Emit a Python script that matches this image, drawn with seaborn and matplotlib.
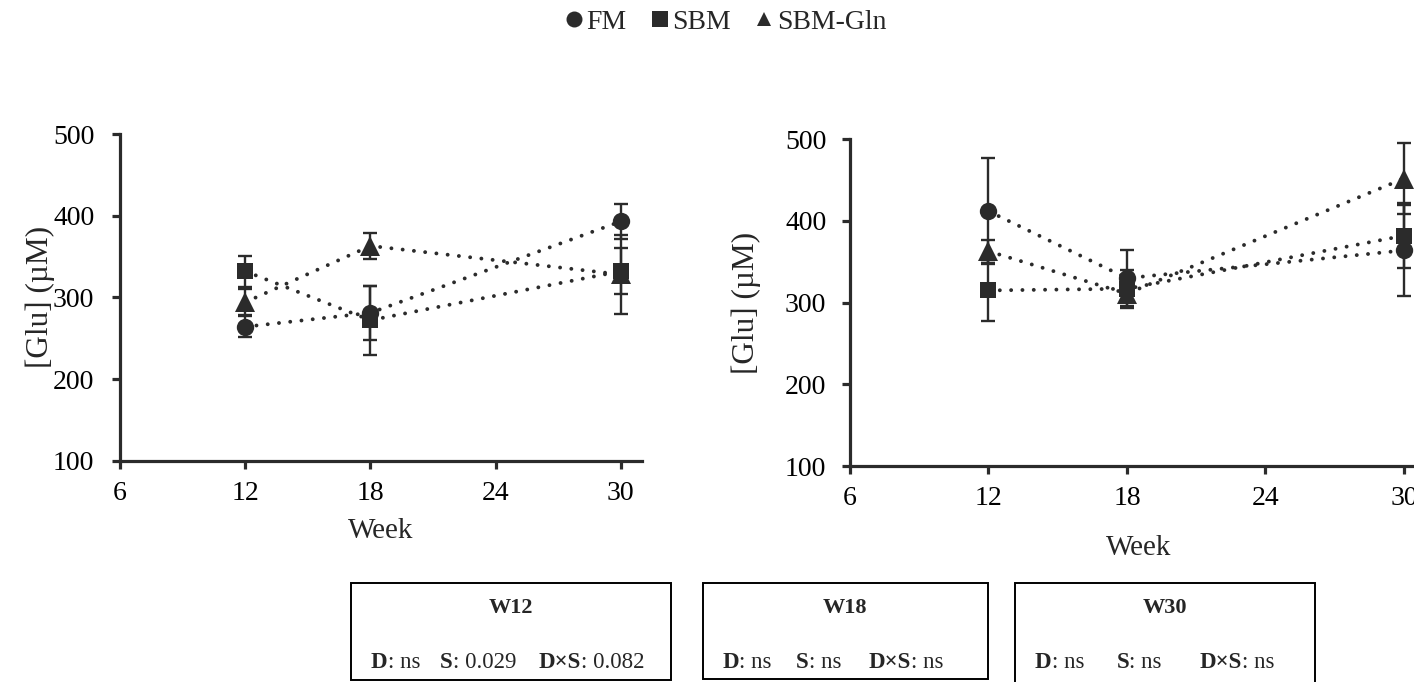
import matplotlib
matplotlib.use("Agg")
import matplotlib.pyplot as plt
from matplotlib.lines import Line2D
from matplotlib.patches import Rectangle
import numpy as np
import pandas as pd
import seaborn as sns

# ---- data -------------------------------------------------------------
weeks = [12, 18, 30]
diets = ["FM", "SBM", "SBM-Gln"]

# left panel: mean and SE per diet
left_FM = [264, 281, 393]
left_FM_se = [13, 33, 21]
left_SBM = [332, 272, 332]
left_SBM_se = [19, 42, 28]
left_GLN = [294, 363, 328]
left_GLN_se = [16, 16, 48]

# right panel: mean and SE per diet
right_FM = [412, 330, 364]
right_FM_se = [65, 34, 56]
right_SBM = [315, 317, 382]
right_SBM_se = [37, 23, 40]
right_GLN = [363, 311, 452]
right_GLN_se = [14, 10, 43]

x_ticks = [6, 12, 18, 24, 30]
y_ticks = [100, 200, 300, 400, 500]

stat_titles = ["W12", "W18", "W30"]
stat_rows = [
    [("D", ": ns"), ("S", ": 0.029"), ("D×S", ": 0.082")],
    [("D", ": ns"), ("S", ": ns"), ("D×S", ": ns")],
    [("D", ": ns"), ("S", ": ns"), ("D×S", ": ns")],
]

# ---- style ------------------------------------------------------------
sns.set_style("ticks")
plt.rcParams["font.family"] = ["Liberation Serif", "DejaVu Serif"]
INK = "#2b2b2b"

W, H = 1414, 682
fig = plt.figure(figsize=(W / 100, H / 100), dpi=100)
fig.patch.set_facecolor("white")


def fx(px):
    return px / W


def fy(py):
    return 1 - py / H


markers = {"FM": "o", "SBM": "s", "SBM-Gln": "^"}
msizes = {"FM": 12.5, "SBM": 11, "SBM-Gln": 14}


def draw_panel(ax, means, ses, ytick_pad):
    df = pd.DataFrame({
        "Week": np.tile(weeks, len(diets)),
        "Glu": np.concatenate(means),
        "Diet": np.repeat(diets, len(weeks)),
    })
    for diet, se in zip(diets, ses):
        sub = df[df["Diet"] == diet]
        ax.errorbar(sub["Week"], sub["Glu"], yerr=se, fmt="none",
                    ecolor=INK, elinewidth=1.7, capsize=4.8, capthick=1.7,
                    zorder=2, clip_on=False)
        sns.lineplot(data=sub, x="Week", y="Glu", ax=ax, color=INK,
                     marker=markers[diet], markersize=msizes[diet],
                     markeredgewidth=0, linewidth=2.8,
                     linestyle=(0, (0.01, 2.9)), dash_capstyle="round",
                     errorbar=None, legend=False, zorder=3, clip_on=False)
    ax.set_xlim(6, 31)
    ax.set_ylim(100, 500)
    ax.set_xticks(x_ticks)
    ax.set_yticks(y_ticks)
    sns.despine(ax=ax)
    for side in ("left", "bottom"):
        ax.spines[side].set_linewidth(2.3)
        ax.spines[side].set_color(INK)
    ax.tick_params(axis="both", direction="out", length=5.5, width=2.3,
                   color=INK, labelsize=20, labelcolor="black")
    ax.tick_params(axis="x", pad=9)
    ax.tick_params(axis="y", pad=ytick_pad)
    ax.set_facecolor("none")


ax1 = fig.add_axes([fx(120), fy(460.7), fx(521.7), 326.7 / H])
draw_panel(ax1, [left_FM, left_SBM, left_GLN],
           [left_FM_se, left_SBM_se, left_GLN_se], 13)
ax1.set_xlabel("Week", fontsize=21)
ax1.set_ylabel("[Glu] (µM)", fontsize=22.5)
ax1.xaxis.set_label_coords(0.5, (460.7 - 531) / 326.7)
ax1.xaxis.label.set_va("center")
ax1.yaxis.set_label_coords((40 - 120) / 521.7, 0.5)
ax1.yaxis.label.set_va("center")

ax2 = fig.add_axes([fx(850), fy(466), fx(577), 326.7 / H])
draw_panel(ax2, [right_FM, right_SBM, right_GLN],
           [right_FM_se, right_SBM_se, right_GLN_se], 11.5)
ax2.set_xlabel("Week", fontsize=21)
ax2.set_ylabel("[Glu] (µM)", fontsize=22.5)
ax2.xaxis.set_label_coords(0.5, (466 - 548) / 326.7)
ax2.xaxis.label.set_va("center")
ax2.yaxis.set_label_coords((746.5 - 850) / 577, 0.5)
ax2.yaxis.label.set_va("center")

# ---- shared legend across the top ------------------------------------
handles = [Line2D([], [], linestyle="none", marker=markers[d], color=INK,
                  markeredgewidth=0, markersize=s)
           for d, s in zip(diets, [11.5, 11, 10])]
fig.legend(handles, diets, loc="center", bbox_to_anchor=(fx(726), fy(22)),
           ncol=3, frameon=False, fontsize=20, handlelength=0.6,
           handletextpad=0.15, columnspacing=0.9, borderpad=0)

# ---- statistics boxes -------------------------------------------------
boxes = [(351, 670.7, 583, 680), (702.7, 987.7, 583, 679),
         (1015, 1315, 583, 695)]
row_x = [[371, 440, 538.3], [722.7, 796, 869], [1035, 1116.7, 1200]]

renderer = fig.canvas.get_renderer()
for (x0, x1, y0, y1), title, row, xs in zip(boxes, stat_titles,
                                            stat_rows, row_x):
    fig.add_artist(Rectangle((fx(x0), fy(y1)), fx(x1 - x0), (y1 - y0) / H,
                             transform=fig.transFigure, fill=False,
                             edgecolor="black", linewidth=1.4,
                             clip_on=False))
    fig.text(fx((x0 + x1) / 2), fy(608), title, fontsize=16,
             fontweight="bold", ha="center", va="center")
    for (bold, rest), xp in zip(row, xs):
        t = fig.text(fx(xp), fy(662), bold, fontsize=16.5, fontweight="bold",
                     ha="left", va="center")
        bb = t.get_window_extent(renderer)
        fig.text(bb.x1 / W, fy(662), rest, fontsize=16.5, ha="left",
                 va="center")

fig.savefig("out.png", dpi=100, facecolor="white")
